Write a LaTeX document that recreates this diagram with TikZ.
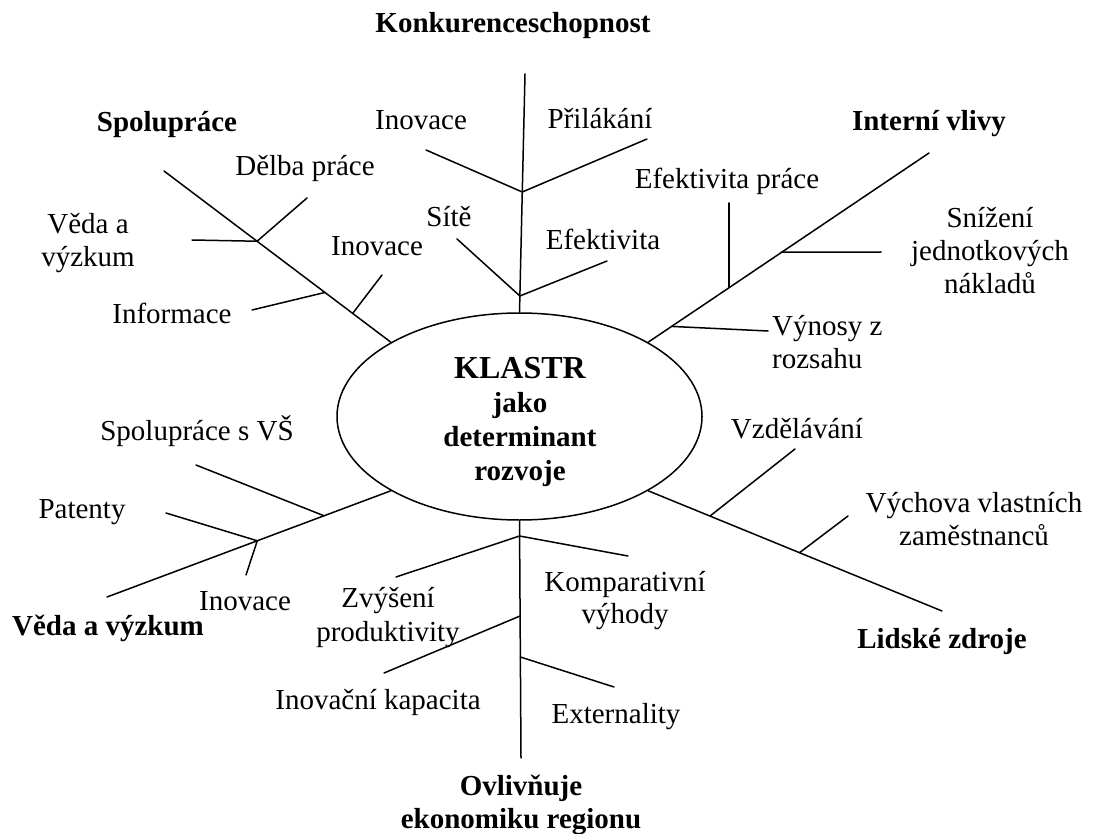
\documentclass[tikz,border=0pt]{standalone}
\usepackage{fontspec}
\setmainfont{Liberation Serif}
\usetikzlibrary{shapes.geometric,calc}
\begin{document}
\begin{tikzpicture}[x=1pt,y=-1pt,
  lbl/.style={font=\fontsize{29}{33}\selectfont, inner sep=0pt, anchor=base, align=center},
  bl/.style={lbl, font=\fontsize{29}{33.7}\selectfont\bfseries},
  ln/.style={line width=1.5pt, line cap=round}]
\useasboundingbox (0,0) rectangle (1102,834);
% central ellipse
\node[draw, ellipse, line width=1.5pt, minimum width=365, minimum height=207, inner sep=0pt] (klastr) at (519.5,416.5) {};
% multi-line nodes are placed at the baseline of their last line
\node[bl] (ktext) at (520,480) {{\fontsize{32}{33.7}\selectfont KLASTR}\\jako\\determinant\\rozvoje};
% labels
\node[bl] (konk) at (513,33) {Konkurenceschopnost};
\node[bl] (spol) at (167,132) {Spolupráce};
\node[lbl] (inov1) at (421,130) {Inovace};
\node[lbl] (pril) at (600,129) {Přilákání};
\node[bl] (intv) at (929,131) {Interní vlivy};
\node[lbl] (delba) at (305,176) {Dělba práce};
\node[lbl] (efp) at (727,189) {Efektivita práce};
\node[lbl] (veda1) at (88,266) {Věda a\\výzkum};
\node[lbl] (site) at (449,227) {Sítě};
\node[lbl] (inov2) at (377,255) {Inovace};
\node[lbl] (efek) at (603,250) {Efektivita};
\node[lbl] (sniz) at (990,293) {Snížení\\jednotkových\\nákladů};
\node[lbl] (info) at (172,323) {Informace};
\node[lbl, align=left, anchor=base west] (vyn) at (772,368) {Výnosy z\\rozsahu};
\node[lbl] (vzd) at (797,438) {Vzdělávání};
\node[lbl] (spvs) at (197,440) {Spolupráce s VŠ};
\node[lbl] (vych) at (974,545) {Výchova vlastních\\zaměstnanců};
\node[lbl] (pat) at (82,518) {Patenty};
\node[lbl, font=\fontsize{29}{31.5}\selectfont] (komp) at (625,623) {Komparativní\\výhody};
\node[lbl, font=\fontsize{29}{34}\selectfont] (zvys) at (388,641) {Zvýšení\\produktivity};
\node[lbl] (inov3) at (245,610) {Inovace};
\node[bl] (veda2) at (108,635) {Věda a výzkum};
\node[bl] (lid) at (942,648) {Lidské zdroje};
\node[lbl] (inkap) at (378,709) {Inovační kapacita};
\node[lbl] (ext) at (616,723) {Externality};
\node[bl, font=\fontsize{29}{33}\selectfont\bfseries] (ovl) at (521,828) {Ovlivňuje\\ekonomiku regionu};
% outer ends of main lines
\coordinate (T0) at (525,74);
\coordinate (S0) at (164,171);
\coordinate (I0) at (929,153);
\coordinate (V0) at (107,597);
\coordinate (B0) at (521,758);
\coordinate (L0) at (942,611);
% main lines
\draw[ln] (T0) -- (klastr.north);
\draw[ln] (S0) -- (klastr.150);
\draw[ln] (I0) -- (klastr.30);
\draw[ln] (V0) -- (klastr.210);
\draw[ln] (klastr.south) -- (B0);
\draw[ln] (klastr.330) -- (L0);
% joints on main lines
\coordinate (tj1) at ($(T0)!(522,192)!(klastr.north)$);
\coordinate (tj2) at ($(T0)!(520,296)!(klastr.north)$);
\coordinate (sj1) at ($(S0)!(258,240)!(klastr.150)$);
\coordinate (sj2) at ($(S0)!(323,295)!(klastr.150)$);
\coordinate (sj3) at ($(S0)!(353,313)!(klastr.150)$);
\coordinate (ij1) at ($(I0)!(672,327)!(klastr.30)$);
\coordinate (ij2) at (729,287);
\coordinate (ij3) at ($(I0)!(781,251)!(klastr.30)$);
\coordinate (vj1) at ($(V0)!(323,513)!(klastr.210)$);
\coordinate (vj2) at ($(V0)!(257,540)!(klastr.210)$);
\coordinate (bj1) at ($(klastr.south)!(520,536)!(B0)$);
\coordinate (bj2) at ($(klastr.south)!(520,616)!(B0)$);
\coordinate (bj3) at ($(klastr.south)!(520,657)!(B0)$);
\coordinate (lj1) at ($(klastr.330)!(710,516)!(L0)$);
\coordinate (lj2) at ($(klastr.330)!(799,554)!(L0)$);
% free ends of branches
\coordinate (ti1) at (426,150);
\coordinate (tp1) at (647,139);
\coordinate (ts1) at (457,239);
\coordinate (te1) at (607,261);
\coordinate (sv) at (192,240);
\coordinate (sd) at (307,198);
\coordinate (si) at (252,310);
\coordinate (sn) at (382,275);
\coordinate (iv) at (768,331);
\coordinate (ie) at (729,203);
\coordinate (isn) at (881,252);
\coordinate (vs) at (196,465);
\coordinate (vp) at (166,513);
\coordinate (vi) at (246,575);
\coordinate (bz) at (396,577);
\coordinate (bk) at (628,556);
\coordinate (bi) at (384,673);
\coordinate (bx) at (614,687);
\coordinate (lv) at (795,449);
\coordinate (lw) at (848,516);
% branches
\draw[ln] (ti1) -- (tj1) -- (tp1);
\draw[ln] (ts1) -- (tj2) -- (te1);
\draw[ln] (sv) -- (sj1) -- (sd);
\draw[ln] (si) -- (sj2);
\draw[ln] (sn) -- (sj3);
\draw[ln] (iv) -- (ij1);
\draw[ln] (ie) -- (ij2);
\draw[ln] (isn) -- (ij3);
\draw[ln] (vs) -- (vj1);
\draw[ln] (vp) -- (vj2) -- (vi);
\draw[ln] (bz) -- (bj1) -- (bk);
\draw[ln] (bi) -- (bj2);
\draw[ln] (bx) -- (bj3);
\draw[ln] (lv) -- (lj1);
\draw[ln] (lw) -- (lj2);
\end{tikzpicture}
\end{document}
